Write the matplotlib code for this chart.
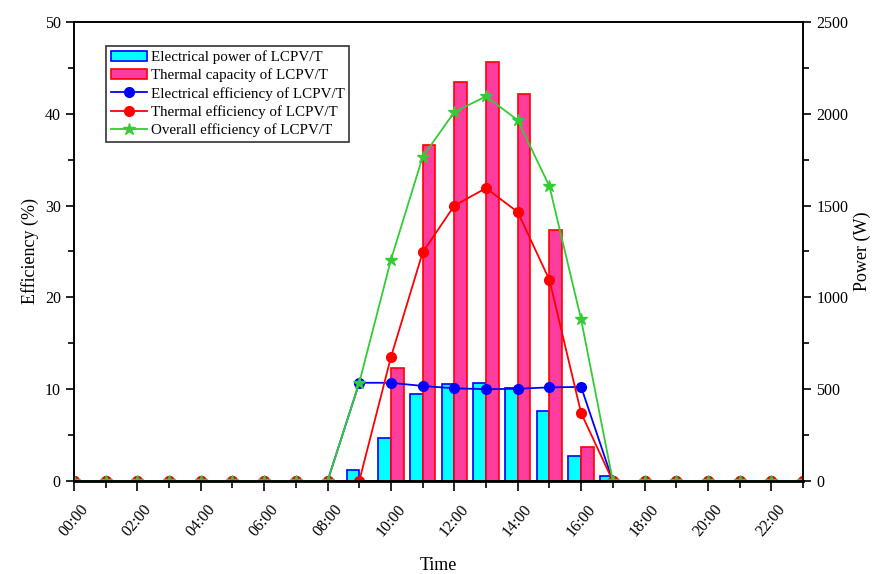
import numpy as np
import matplotlib
matplotlib.use("Agg")
import matplotlib.pyplot as plt
from matplotlib.ticker import MultipleLocator

plt.rcParams['font.family'] = ['Liberation Serif', 'DejaVu Serif']

hours = np.arange(0, 24)
tick_labels = ['%02d:00' % h for h in range(0, 24, 2)]

# power (W), zero outside 09:00-17:00
elec_power = [0, 0, 0, 0, 0, 0, 0, 0, 0, 60, 232, 472, 528, 535, 505, 383, 136, 29,
              0, 0, 0, 0, 0, 0]
therm_power = [0, 0, 0, 0, 0, 0, 0, 0, 0, 0, 617, 1830, 2173, 2282, 2108, 1367, 187, 0,
               0, 0, 0, 0, 0, 0]

# efficiency (%)
elec_eff = [0, 0, 0, 0, 0, 0, 0, 0, 0, 10.7, 10.7, 10.35, 10.1, 10.0, 10.05, 10.2, 10.25, 0,
            0, 0, 0, 0, 0, 0]
therm_eff = [0, 0, 0, 0, 0, 0, 0, 0, 0, 0, 13.5, 24.9, 30.0, 31.9, 29.3, 21.9, 7.4, 0,
             0, 0, 0, 0, 0, 0]
overall_eff = [0, 0, 0, 0, 0, 0, 0, 0, 0, 10.7, 24.1, 35.3, 40.2, 41.9, 39.3, 32.1, 17.6, 0,
               0, 0, 0, 0, 0, 0]

fig = plt.figure(figsize=(8.83, 5.74), dpi=100)
ax = fig.add_axes([0.0838, 0.162, 0.8256, 0.7997])
ax2 = ax.twinx()
ax.set_zorder(ax2.get_zorder() + 1)
ax.patch.set_visible(False)

w = 0.4
b1 = ax2.bar(hours - w / 2, elec_power, width=w, color='#00FFFF', edgecolor='#0000FF',
             linewidth=1.2, label='Electrical power of LCPV/T')
b2 = ax2.bar(hours + w / 2, therm_power, width=w, color='#FF3D9E', edgecolor='#FF0000',
             linewidth=1.2, label='Thermal capacity of LCPV/T')

l1, = ax.plot(hours, elec_eff, '-o', color='#0000FF', ms=7, lw=1.3,
              label='Electrical efficiency of LCPV/T')
l2, = ax.plot(hours, therm_eff, '-o', color='#FF0000', ms=7, lw=1.3,
              label='Thermal efficiency of LCPV/T')
l3, = ax.plot(hours, overall_eff, '-*', color='#33CC33', ms=9, lw=1.3,
              label='Overall efficiency of LCPV/T')

ax.set_xlim(0, 23)
ax.set_ylim(0, 50)
ax2.set_ylim(0, 2500)
ax.set_xticks(range(0, 24, 2))
ax.set_xticklabels(tick_labels, rotation=50, fontsize=11.5)
ax.xaxis.set_minor_locator(MultipleLocator(1))
ax.yaxis.set_major_locator(MultipleLocator(10))
ax.yaxis.set_minor_locator(MultipleLocator(5))
ax2.yaxis.set_major_locator(MultipleLocator(500))
ax2.yaxis.set_minor_locator(MultipleLocator(250))

ax.tick_params(which='major', direction='out', length=6, width=1.2, labelsize=11.5)
ax.tick_params(which='minor', direction='out', length=4, width=1.2)
ax.tick_params(axis='x', which='major', length=7, pad=8)
ax.tick_params(axis='x', which='minor', length=5)
ax2.tick_params(which='major', direction='out', length=6, width=1.2, labelsize=11.5)
ax2.tick_params(which='minor', direction='out', length=4, width=1.2)

for a in (ax, ax2):
    for s in a.spines.values():
        s.set_linewidth(1.2)
ax.spines['bottom'].set_linewidth(2)

ax.set_xlabel('Time', fontsize=13, labelpad=12)
ax.set_ylabel('Efficiency (%)', fontsize=13)
ax2.set_ylabel('Power (W)', fontsize=13)

leg = ax.legend(handles=[b1, b2, l1, l2, l3], loc='upper left',
                bbox_to_anchor=(0.044, 0.948), fontsize=10.8, frameon=True,
                fancybox=False, edgecolor='black', handlelength=2.4,
                handletextpad=0.3, borderpad=0.3, labelspacing=0.3,
                borderaxespad=0)
leg.get_frame().set_linewidth(1.2)

fig.savefig('out.png', dpi=100)
